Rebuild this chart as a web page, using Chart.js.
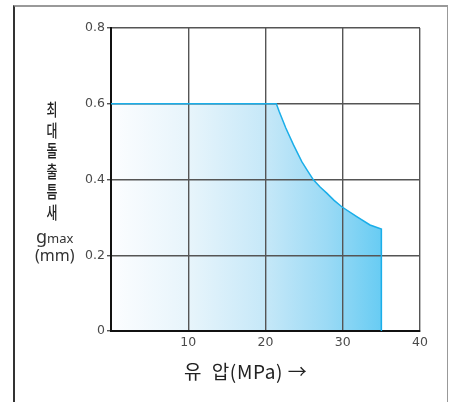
<!DOCTYPE html>
<html>
<head>
    <meta charset="utf-8">
    <title>유압 - 최대돌출틈새</title>
    <script src="https://cdn.jsdelivr.net/npm/chart.js"></script>
    <style>
        body {
            margin: 0;
            background-color: #ffffff;
        }

        #wrap {
            position: relative;
            width: 450px;
            height: 402px;
            overflow: hidden;
        }

        #frame {
            position: absolute;
            left: 13px;
            top: 5px;
            width: 432px;
            height: 420px;
            border-left: 2px solid #333;
            border-top: 2px solid #999;
            border-right: 1.5px solid #999;
        }

        canvas {
            position: absolute;
            left: 0;
            top: 0;
        }

        .ytitle {
            position: absolute;
            left: 40px;
            top: 99px;
            width: 24px;
            font-family: "Noto Sans CJK KR", sans-serif;
            font-size: 17.5px;
            font-weight: 500;
            line-height: 20.5px;
            color: #222;
            text-align: center;
            transform: scaleX(0.68);
        }

        .gmax {
            position: absolute;
            left: 36px;
            top: 224px;
            font-family: "Noto Sans", sans-serif;
            font-size: 18px;
            color: #333;
            white-space: nowrap;
        }

        .gmax span {
            font-size: 13px;
        }

        .unit {
            position: absolute;
            left: 35px;
            top: 244px;
            font-family: "Noto Sans", sans-serif;
            font-size: 16px;
            color: #333;
        }

        .xtitle {
            position: absolute;
            left: 184px;
            top: 357px;
            font-family: "Noto Sans CJK KR", sans-serif;
            font-size: 19px;
            letter-spacing: 0.6px;
            color: #222;
            white-space: pre;
        }
    </style>
</head>
<body>
<div id="wrap">
    <div id="frame"></div>
    <canvas id="chart" width="450" height="402"></canvas>
    <div class="ytitle">최<br>대<br>돌<br>출<br>틈<br>새</div>
    <div class="gmax">g<span>max</span></div>
    <div class="unit">(mm)</div>
    <div class="xtitle">유  압(MPa) →</div>
</div>

<script>
    // 유압 (MPa) vs 최대돌출틈새 gmax (mm)
    const pressure = [0, 21.4, 21.76, 22.63, 23.61, 24.7, 25.45, 26.2, 27.07, 27.93, 28.88, 29.87, 31.81, 33.53, 35.0, 35.0];
    const gap      = [0.6, 0.6, 0.58, 0.536, 0.492, 0.447, 0.423, 0.399, 0.38, 0.364, 0.345, 0.328, 0.302, 0.28, 0.269, 0];

    const xTicks = [0, 10, 20, 30, 40];
    const yTicks = [0, 0.2, 0.4, 0.6, 0.8];

    const points = pressure.map((p, i) => ({ x: p, y: gap[i] }));

    function fillGradient(context) {
        const chart = context.chart;
        const area = chart.chartArea;
        if (!area) return '#c5e8f8';
        const xEnd = chart.scales.x.getPixelForValue(Math.max(...pressure));
        const g = chart.ctx.createLinearGradient(area.left, 0, xEnd, 0);
        g.addColorStop(0, '#fcfdff');
        g.addColorStop(0.3, '#e6f4fb');
        g.addColorStop(0.57, '#c6e8f8');
        g.addColorStop(0.8, '#9bdaf5');
        g.addColorStop(1, '#68ccf3');
        return g;
    }

    const tickFont = { family: 'DejaVu Sans', size: 12.5 };

    new Chart(document.getElementById('chart'), {
        type: 'line',
        data: {
            datasets: [{
                data: points,
                borderColor: '#1aaee9',
                borderWidth: 1.5,
                backgroundColor: fillGradient,
                fill: 'origin',
                pointRadius: 0,
                tension: 0
            }]
        },
        options: {
            responsive: false,
            animation: false,
            events: [],
            layout: {
                padding: { top: 28, right: 30, left: 0, bottom: 0 }
            },
            plugins: {
                legend: { display: false },
                tooltip: { enabled: false },
                filler: { drawTime: 'beforeDraw' }
            },
            scales: {
                x: {
                    type: 'linear',
                    min: 0,
                    max: 40,
                    afterBuildTicks: axis => { axis.ticks = xTicks.map(v => ({ value: v })); },
                    afterFit: axis => { axis.height = 71; },
                    ticks: {
                        color: '#4a4a4a',
                        font: tickFont,
                        padding: 4,
                        callback: v => (v === 0 ? '' : v)
                    },
                    grid: {
                        color: '#555',
                        lineWidth: 1.4,
                        drawTicks: false
                    },
                    border: { color: '#111', width: 2 }
                },
                y: {
                    min: 0,
                    max: 0.8,
                    afterBuildTicks: axis => { axis.ticks = yTicks.map(v => ({ value: v })); },
                    afterFit: axis => { axis.width = 111; },
                    ticks: {
                        color: '#4a4a4a',
                        font: tickFont,
                        padding: 2,
                        callback: v => (v === 0 ? '0' : v.toFixed(1))
                    },
                    grid: {
                        color: '#555',
                        lineWidth: 1.4,
                        tickLength: 4
                    },
                    border: { color: '#111', width: 2 }
                }
            }
        }
    });
</script>
</body>
</html>
